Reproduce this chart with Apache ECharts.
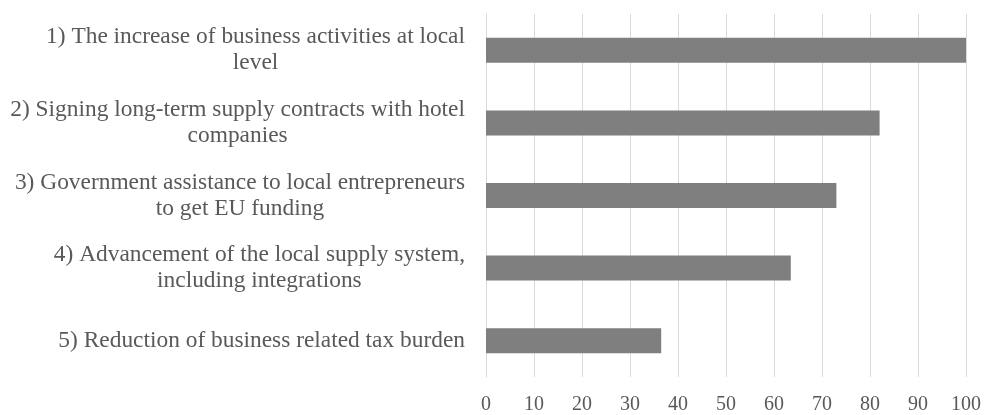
<!DOCTYPE html>
<html>
<head>
<meta charset="utf-8">
<script src="https://cdn.jsdelivr.net/npm/echarts@6/dist/echarts.min.js"></script>
<style>
  html, body { margin: 0; padding: 0; background: #fff; }
  #main { width: 989px; height: 415px; }
</style>
</head>
<body>
<div id="main"></div>
<script>
// category labels, top to bottom
var categories = [
  '1) The increase of business activities at local\nlevel',
  '2) Signing long-term supply contracts with hotel\ncompanies',
  '3) Government assistance to local entrepreneurs\nto get EU funding',
  '4) Advancement of the local supply system,\nincluding integrations',
  '5) Reduction of business related tax burden'
];
var values = [100, 82, 73, 63.5, 36.5];

var xMin = 0, xMax = 100, xStep = 10;

var serif = '"Liberation Serif", "DejaVu Serif", serif';
var myChart = echarts.init(document.getElementById('main'));

var option = {
  backgroundColor: '#ffffff',
  animation: false,
  grid: { left: 486, right: 23, top: 14, bottom: 38, containLabel: false },
  xAxis: {
    type: 'value',
    min: xMin, max: xMax, interval: xStep,
    axisLine: { show: false },
    axisTick: { show: false },
    splitLine: { show: true, lineStyle: { color: '#d9d9d9', width: 1 } },
    axisLabel: {
      margin: 18,
      color: '#595959',
      fontFamily: serif,
      fontSize: 20
    }
  },
  yAxis: {
    type: 'category',
    inverse: true,
    data: categories,
    axisLine: { show: true, lineStyle: { color: '#d9d9d9' } },
    axisTick: { show: false },
    axisLabel: {
      margin: 21,
      align: 'right',
      color: '#595959',
      fontFamily: serif,
      fontSize: 23.4,
      lineHeight: 26,
      formatter: function (v) {
        // center each wrapped line inside the right-aligned block
        return v.split('\n').map(function (s) { return '{c|' + s + '}'; }).join('\n');
      },
      rich: {
        c: {
          align: 'center',
          color: '#595959',
          fontFamily: serif,
          fontSize: 23.4,
          lineHeight: 26
        }
      }
    }
  },
  series: [{
    type: 'bar',
    data: values,
    barWidth: 25,
    itemStyle: { color: '#7f7f7f' }
  }]
};

myChart.setOption(option);
</script>
</body>
</html>
